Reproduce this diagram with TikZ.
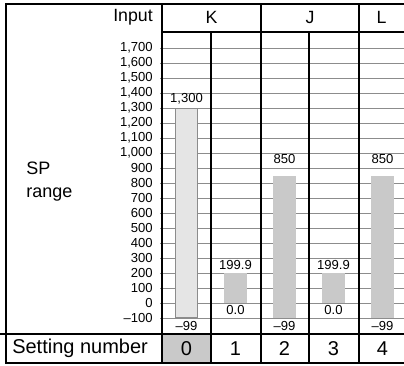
\documentclass[tikz,border=0pt]{standalone}
\usepackage{fontspec}
\setmainfont{Liberation Sans}

\begin{document}
\begin{tikzpicture}
[x=0.75pt, y=-0.75pt,
 grid/.style={draw=black!45, line width=0.7pt},
 frame/.style={line width=1.6pt},
 col/.style={line width=1pt},
 tick/.style={anchor=east, inner sep=0pt, font=\fontsize{9.8}{11}\selectfont},
 val/.style={inner sep=0pt, font=\fontsize{9.8}{11}\selectfont},
 head/.style={inner sep=0pt, font=\fontsize{13.3}{15}\selectfont},
 big/.style={inner sep=0pt, font=\fontsize{15}{17}\selectfont},
 bar/.style={fill=black!21}]
\useasboundingbox (0,0) rectangle (404,365);

\fill[bar] (162,334) rectangle (211,363);

% scale lines
\foreach \v/\t [count=\i] in {-100/{–100},0/0,100/100,200/200,300/300,400/400,
	500/500,600/600,700/700,800/800,900/900,1000/{1,000},1100/{1,100},
	1200/{1,200},1300/{1,300},1400/{1,400},1500/{1,500},1600/{1,600},1700/{1,700}}{
	\draw[grid] (160,{303-0.15*\v}) -- (404,{303-0.15*\v});
	\node[tick] (tick\i) at (153,{303-0.15*\v}) {\t};
}

% bars
\filldraw[fill=black!10, draw=black!45, line width=0.6pt] (175,108) rectangle (197,317.85);
\foreach \x/\top/\bot in {235.5/199.9/0, 284.5/850/-99, 333.5/199.9/0, 382.5/850/-99}
	\fill[bar] (\x-11.5,{303-0.15*\top}) rectangle (\x+11.5,{303-0.15*\bot});

\node[val] (max0) at (186.5,98.5) {1,300};
\node[val] (min0) at (186.5,325.5) {–99};
\node[val] (max1) at (235.5,264.5) {199.9};
\node[val] (min1) at (235.5,309.5) {0.0};
\node[val] (max2) at (284.5,158.5) {850};
\node[val] (min2) at (284.5,325.5) {–99};
\node[val] (max3) at (333.5,264.5) {199.9};
\node[val] (min3) at (333.5,309.5) {0.0};
\node[val] (max4) at (382.5,158.5) {850};
\node[val] (min4) at (382.5,325.5) {–99};

% table lines
\draw[frame] (5,4) -- (404,4);
\draw[frame] (6,4) -- (6,364);
\draw[frame] (6,363) -- (404,363);
\draw[frame] (162,32) -- (404,32);
\draw[col] (0,334) -- (404,334);
\draw[frame] (162,4) -- (162,363);
\foreach \x in {261,359}
	\draw[col] (\x,4) -- (\x,363);
\foreach \x in {211,309}
	\draw[col] (\x,32) -- (\x,363);

\node[head, anchor=east] (input) at (153,17) {Input};
\node[head] (K) at (211.5,17) {K};
\node[head] (J) at (310,17) {J};
\node[head] (L) at (381.5,17) {L};

\node[anchor=west, align=left, inner sep=0pt, font=\fontsize{13.5}{17.3}\selectfont]
	(sp) at (26,181.5) {SP\\range};

\node[big, anchor=west] (setting) at (12,348.5) {Setting number};
\foreach \n [count=\i from 0] in {186.5,235.5,284.5,333.5,382.5}
	\node[big] (num\i) at (\n,348.5) {\i};
\end{tikzpicture}
\end{document}
